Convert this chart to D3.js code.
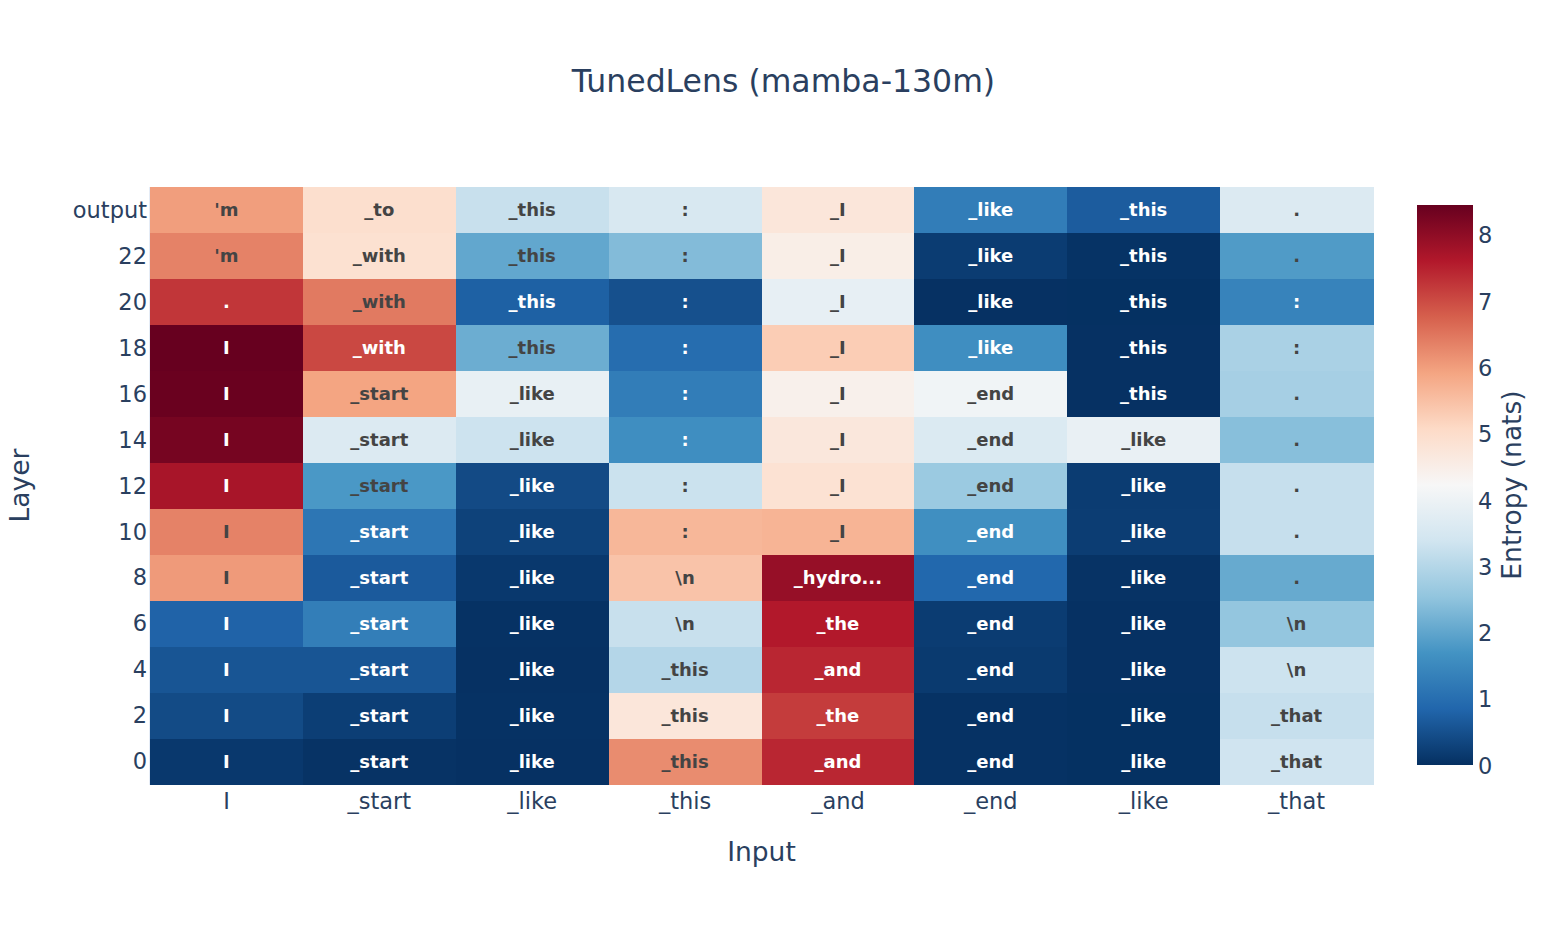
<!DOCTYPE html>
<html>
<head>
<meta charset="utf-8">
<script src="https://cdn.jsdelivr.net/npm/d3@7"></script>
<style>
  html, body { margin: 0; padding: 0; background: #fff; }
  svg { display: block; font-family: "DejaVu Sans", Verdana, sans-serif; }
</style>
</head>
<body>
<svg id="chart" width="1568" height="934"></svg>
<script>
// ---- data ----
const inputTokens = ["I", "_start", "_like", "_this", "_and", "_end", "_like", "_that"];
const layerLabels = ["0", "2", "4", "6", "8", "10", "12", "14", "16", "18", "20", "22", "output"];

// entropy (nats), rows = layers from 0 up to output, columns = input tokens
const entropy = [
  [0.13, 0.05, 0.02, 6.22, 7.44, 0.03, 0.01, 3.36], // 0
  [0.42, 0.22, 0.03, 4.73, 7.18, 0.03, 0.01, 3.23], // 2
  [0.58, 0.58, 0.02, 2.99, 7.44, 0.16, 0.02, 3.33], // 4
  [0.80, 1.30, 0.03, 3.26, 7.60, 0.19, 0.02, 2.56], // 6
  [6.05, 0.66, 0.13, 5.44, 7.92, 0.88, 0.05, 2.08], // 8
  [6.34, 1.15, 0.28, 5.63, 5.68, 1.62, 0.20, 3.23], // 10
  [7.72, 1.77, 0.41, 3.30, 4.86, 2.66, 0.19, 3.23], // 12
  [8.28, 3.63, 3.33, 1.60, 4.70, 3.60, 3.91, 2.43], // 14
  [8.42, 5.92, 3.89, 1.27, 4.43, 4.07, 0.02, 2.80], // 16
  [8.45, 7.04, 2.13, 0.97, 5.29, 1.60, 0.02, 2.86], // 18
  [7.25, 6.44, 0.76, 0.50, 3.87, 0.02, 0.01, 1.39], // 20
  [6.34, 4.90, 2.02, 2.37, 4.50, 0.19, 0.04, 1.83], // 22
  [6.00, 4.95, 3.26, 3.53, 4.73, 1.27, 0.69, 3.63]  // output
];

// top predicted token per cell, same layout as entropy
const topTokens = [
  ["I", "_start", "_like", "_this", "_and", "_end", "_like", "_that"],
  ["I", "_start", "_like", "_this", "_the", "_end", "_like", "_that"],
  ["I", "_start", "_like", "_this", "_and", "_end", "_like", "\\n"],
  ["I", "_start", "_like", "\\n", "_the", "_end", "_like", "\\n"],
  ["I", "_start", "_like", "\\n", "_hydro...", "_end", "_like", "."],
  ["I", "_start", "_like", ":", "_I", "_end", "_like", "."],
  ["I", "_start", "_like", ":", "_I", "_end", "_like", "."],
  ["I", "_start", "_like", ":", "_I", "_end", "_like", "."],
  ["I", "_start", "_like", ":", "_I", "_end", "_this", "."],
  ["I", "_with", "_this", ":", "_I", "_like", "_this", ":"],
  [".", "_with", "_this", ":", "_I", "_like", "_this", ":"],
  ["'m", "_with", "_this", ":", "_I", "_like", "_this", "."],
  ["'m", "_to", "_this", ":", "_I", "_like", "_this", "."]
];

const colorbarTicks = [0, 1, 2, 3, 4, 5, 6, 7, 8];
const chartTitle = "TunedLens (mamba-130m)";
const xTitle = "Input";
const yTitle = "Layer";
const cbTitle = "Entropy (nats)";

// RdBu reversed (low = dark blue, high = dark red)
const rdbuColors = ["#053061", "#2166ac", "#4393c3", "#92c5de", "#d1e5f0", "#f7f7f7",
                    "#fddbc7", "#f4a582", "#d6604d", "#b2182b", "#67001f"];

// ---- layout ----
const svg = d3.select("#chart");
const plot = { left: 150, right: 1373, top: 187, bottom: 784 };
const cb = { left: 1417, right: 1473, top: 205, bottom: 765 };
const textColor = "#2a3f5f";

const zmax = d3.max(entropy.flat());
const zmin = 0;
const color = d3.scaleLinear()
  .domain(rdbuColors.map((c, i) => zmin + (zmax - zmin) * i / (rdbuColors.length - 1)))
  .range(rdbuColors)
  .interpolate(d3.interpolateRgb)
  .clamp(true);

const x = d3.scaleBand().domain(d3.range(inputTokens.length)).range([plot.left, plot.right]).padding(0);
const y = d3.scaleBand().domain(d3.range(layerLabels.length)).range([plot.bottom, plot.top]).padding(0);

// plot background peeking at edges
svg.append("rect")
  .attr("x", plot.left - 1).attr("y", plot.top)
  .attr("width", plot.right - plot.left + 1).attr("height", plot.bottom - plot.top + 1)
  .attr("fill", "#E5ECF6");

const cells = [];
entropy.forEach((row, r) => row.forEach((v, c) => cells.push({ r, c, v, t: topTokens[r][c] })));

const g = svg.append("g");
g.selectAll("rect.cell").data(cells).join("rect")
  .attr("class", "cell")
  .attr("x", d => x(d.c))
  .attr("y", d => y(d.r))
  .attr("width", x.bandwidth() + 0.5)
  .attr("height", y.bandwidth() + 0.5)
  .attr("fill", d => color(d.v))
  .attr("shape-rendering", "crispEdges");

function textFill(v) {
  const c = d3.rgb(color(v));
  const brightness = (c.r * 299 + c.g * 587 + c.b * 114) / 1000;
  return brightness < 128 ? "#ffffff" : "#444444";
}

g.selectAll("text.cell").data(cells).join("text")
  .attr("class", "cell")
  .attr("x", d => x(d.c) + x.bandwidth() / 2)
  .attr("y", d => y(d.r) + y.bandwidth() / 2)
  .attr("dy", "0.36em")
  .attr("text-anchor", "middle")
  .attr("font-size", 18)
  .attr("font-weight", "bold")
  .attr("fill", d => textFill(d.v))
  .text(d => d.t);

// x axis
const xAxis = d3.axisBottom(x).tickSize(0).tickPadding(0).tickFormat(i => inputTokens[i]);
const gx = svg.append("g").attr("transform", `translate(0,${plot.bottom})`).call(xAxis);
gx.select(".domain").remove();
gx.selectAll("text")
  .attr("y", 25).attr("dy", 0)
  .attr("font-size", 22.5)
  .attr("font-family", "DejaVu Sans, Verdana, sans-serif")
  .attr("fill", textColor);

// y axis
const yAxis = d3.axisLeft(y).tickSize(0).tickPadding(0).tickFormat(i => layerLabels[i]);
const gy = svg.append("g").attr("transform", `translate(${plot.left},0)`).call(yAxis);
gy.select(".domain").remove();
gy.selectAll("text")
  .attr("x", -3).attr("dy", "0.36em")
  .attr("font-size", 22.5)
  .attr("font-family", "DejaVu Sans, Verdana, sans-serif")
  .attr("fill", textColor);

// titles
svg.append("text")
  .attr("x", 783.5).attr("y", 92)
  .attr("text-anchor", "middle")
  .attr("font-size", 31.5)
  .attr("fill", textColor)
  .text(chartTitle);

svg.append("text")
  .attr("x", (plot.left + plot.right) / 2).attr("y", 861)
  .attr("text-anchor", "middle")
  .attr("font-size", 26.5)
  .attr("fill", textColor)
  .text(xTitle);

svg.append("text")
  .attr("transform", `translate(29,${(plot.top + plot.bottom) / 2}) rotate(-90)`)
  .attr("text-anchor", "middle")
  .attr("font-size", 26.5)
  .attr("fill", textColor)
  .text(yTitle);

// colorbar
const defs = svg.append("defs");
const grad = defs.append("linearGradient")
  .attr("id", "cbgrad").attr("x1", "0").attr("y1", "1").attr("x2", "0").attr("y2", "0");
rdbuColors.forEach((c, i) => {
  grad.append("stop").attr("offset", i / (rdbuColors.length - 1)).attr("stop-color", c);
});
svg.append("rect")
  .attr("x", cb.left).attr("y", cb.top)
  .attr("width", cb.right - cb.left).attr("height", cb.bottom - cb.top)
  .attr("fill", "url(#cbgrad)");

const cbScale = d3.scaleLinear().domain([zmin, zmax]).range([cb.bottom, cb.top]);
const cbAxis = d3.axisRight(cbScale).tickValues(colorbarTicks).tickSize(0).tickPadding(0).tickFormat(d3.format("d"));
const gcb = svg.append("g").attr("transform", `translate(${cb.right},0)`).call(cbAxis);
gcb.select(".domain").remove();
gcb.selectAll("text")
  .attr("x", 5).attr("dy", "0.36em")
  .attr("font-size", 22.5)
  .attr("font-family", "DejaVu Sans, Verdana, sans-serif")
  .attr("fill", textColor);

svg.append("text")
  .attr("transform", `translate(1521,${(cb.top + cb.bottom) / 2}) rotate(-90)`)
  .attr("text-anchor", "middle")
  .attr("font-size", 26.5)
  .attr("fill", textColor)
  .text(cbTitle);
</script>
</body>
</html>
